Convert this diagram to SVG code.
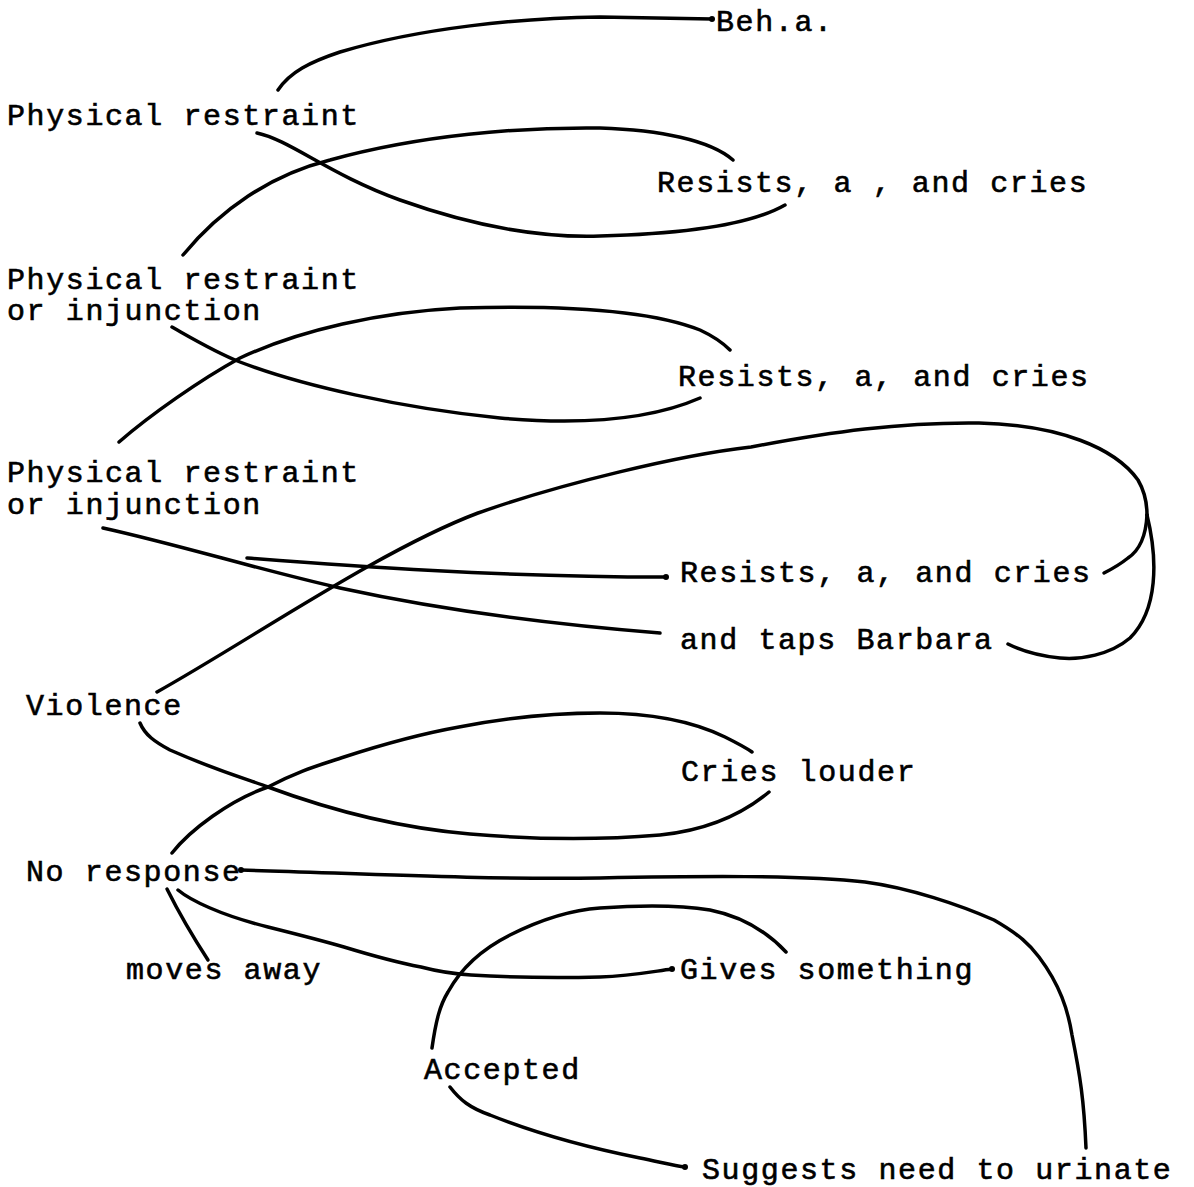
<svg xmlns="http://www.w3.org/2000/svg" width="1194" height="1187" viewBox="0 0 1194 1187">
<style>
  text { font-family: "Liberation Mono", "DejaVu Sans Mono", monospace; font-size: 30px; letter-spacing: 1.6px; fill: #000; stroke: #000; stroke-width: 0.6px; }
  .c { fill: none; stroke: #000; stroke-width: 3.5; stroke-linecap: round; stroke-linejoin: round; }
  .d { fill: #000; }
</style>
<rect width="1194" height="1187" fill="#fff"/>
<g id="connectors">
  <path class="c" d="M278,90 C290,72 310,62 340,52 C420,28 520,18 600,17 L712,19"/>
  <path class="c" d="M257,133 C290,140 330,175 400,200 C470,225 540,238 600,236 C680,234 750,225 785,205"/>
  <path class="c" d="M183,255 C220,210 270,175 330,160 C420,135 520,127 600,128 C660,130 710,140 733,160"/>
  <path class="c" d="M172,327 C195,340 215,352 240,362 C300,385 400,408 500,418 C580,425 650,420 700,398"/>
  <path class="c" d="M119,442 C150,415 200,380 240,358 C300,330 380,312 460,308 C560,305 650,310 700,330 C715,337 725,345 730,350"/>
  <path class="c" d="M103,528 C180,545 260,570 340,588 C450,612 560,625 660,633"/>
  <path class="c" d="M247,558 C350,566 500,577 666,577"/>
  <path class="c" d="M157,692 C250,640 380,550 478,513 C560,484 680,455 751,447 C830,432 900,422 979,423 C1060,425 1115,448 1138,480 C1145,492 1147,505 1147,515"/>
  <path class="c" d="M1147,515 C1146,535 1140,550 1128,558 C1118,566 1110,570 1104,573"/>
  <path class="c" d="M1147,515 C1158,560 1158,610 1130,638 C1110,655 1080,660 1060,658 C1040,656 1020,650 1008,644"/>
  <path class="c" d="M140,723 C145,735 155,742 170,750 C220,772 250,780 268,787 C330,810 400,828 470,834 C540,840 600,840 660,835 C710,830 745,812 769,792"/>
  <path class="c" d="M172,853 C190,830 230,800 268,787 C300,770 320,765 344,757 C390,742 420,734 459,727 C510,717 560,713 600,713 C650,713 690,720 725,737 C735,742 745,747 752,752"/>
  <path class="c" d="M241,870 C350,873 480,880 600,878 C700,876 800,875 865,882 C910,888 960,905 994,920 C1020,935 1030,945 1039,957 C1060,985 1068,1010 1072,1035 C1080,1075 1084,1100 1086,1148"/>
  <path class="c" d="M167,889 C180,915 195,940 208,960"/>
  <path class="c" d="M178,890 C190,900 220,915 268,927 C300,935 320,940 344,947 C380,958 400,963 421,967 C440,972 455,974 471,975 C520,978 560,978 600,977 C630,976 650,972 672,969"/>
  <path class="c" d="M432,1048 C436,1020 440,1005 448,992 C460,970 480,950 510,935 C540,920 570,910 600,908 C640,905 680,905 710,910 C745,917 770,935 786,952"/>
  <path class="c" d="M450,1087 C460,1100 470,1108 490,1115 C540,1135 600,1150 640,1158 C660,1162 675,1166 685,1167"/>
  <circle class="d" cx="712" cy="19" r="3"/>
  <circle class="d" cx="666" cy="577" r="3"/>
  <circle class="d" cx="241" cy="870" r="3"/>
  <circle class="d" cx="672" cy="969" r="3"/>
  <circle class="d" cx="685" cy="1167" r="3"/>
</g>
<g id="n-beh"><text x="716" y="31">Beh.a.</text></g>
<g id="n-pr1"><text x="7" y="125">Physical restraint</text></g>
<g id="n-res1"><text x="657" y="192">Resists, a , and cries</text></g>
<g id="n-pr2"><text x="7" y="289">Physical restraint</text><text x="7" y="320">or injunction</text></g>
<g id="n-res2"><text x="678" y="386">Resists, a, and cries</text></g>
<g id="n-pr3"><text x="7" y="482">Physical restraint</text><text x="7" y="514">or injunction</text></g>
<g id="n-res3"><text x="680" y="582">Resists, a, and cries</text></g>
<g id="n-taps"><text x="680" y="649">and taps Barbara</text></g>
<g id="n-violence"><text x="26" y="715">Violence</text></g>
<g id="n-cries"><text x="681" y="781">Cries louder</text></g>
<g id="n-noresp"><text x="26" y="881">No response</text></g>
<g id="n-moves"><text x="126" y="979">moves away</text></g>
<g id="n-gives"><text x="680" y="979">Gives something</text></g>
<g id="n-accepted"><text x="424" y="1079">Accepted</text></g>
<g id="n-suggests"><text x="702" y="1179">Suggests need to urinate</text></g>
</svg>
